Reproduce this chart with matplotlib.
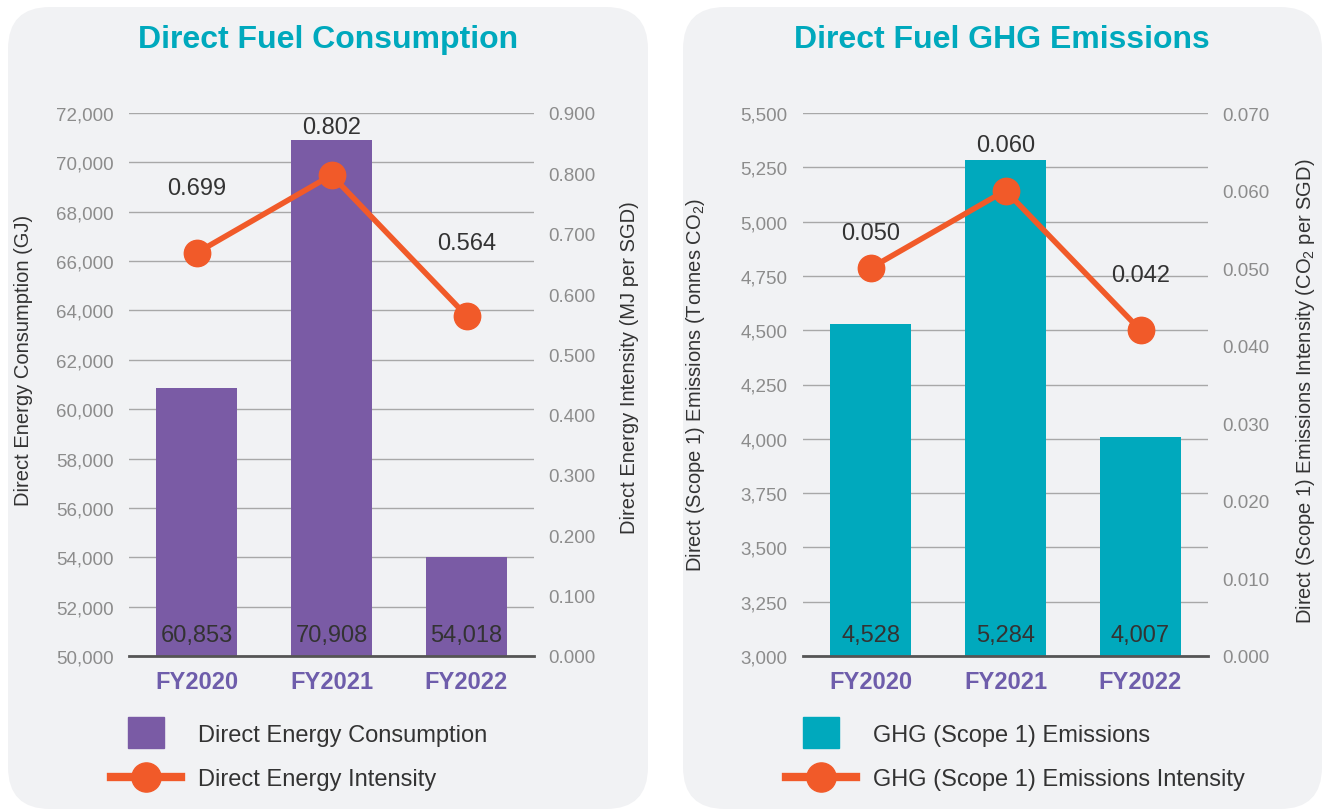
import matplotlib
matplotlib.use('Agg')
import matplotlib.pyplot as plt
import matplotlib.patches as mpatches
from matplotlib.lines import Line2D
from matplotlib.legend_handler import HandlerPatch
from matplotlib.ticker import FuncFormatter, MultipleLocator

plt.rcParams['font.family'] = ['Liberation Sans', 'DejaVu Sans']
plt.rcParams['mathtext.default'] = 'regular'

years = ['FY2020', 'FY2021', 'FY2022']

# left chart
energy = [60853, 70908, 54018]
energy_labels = ['60,853', '70,908', '54,018']
energy_intensity = [0.668, 0.797, 0.564]   # where the markers sit in the picture
energy_intensity_labels = ['0.699', '0.802', '0.564']

# right chart
ghg = [4528, 5284, 4007]
ghg_labels = ['4,528', '5,284', '4,007']
ghg_intensity = [0.050, 0.060, 0.042]
ghg_intensity_labels = ['0.050', '0.060', '0.042']

PURPLE = '#7a5ba5'
TEAL = '#00a9bd'
ORANGE = '#f15a29'
FY_COLOR = '#6e5dab'
TEXT = '#333333'
TICK = '#8c8c8c'
PANEL = '#f1f2f4'

W, H = 1324, 812
fig = plt.figure(figsize=(W / 100, H / 100), dpi=100)
fig.patch.set_facecolor('white')

# rounded panels (inches)
for x0, x1 in [(8, 648), (683, 1322)]:
    fig.patches.append(mpatches.FancyBboxPatch(
        (x0 / 100, 0.02), (x1 - x0) / 100, 8.02,
        boxstyle='round,pad=0,rounding_size=0.42',
        transform=fig.dpi_scale_trans, facecolor=PANEL, edgecolor='none', zorder=-5))


def square_handle(legend, orig_handle, xdescent, ydescent, width, height, fontsize):
    w, h = 26, 22
    return mpatches.Rectangle((width / 2 - w / 2 - xdescent, height / 2 - h / 2 - ydescent), w, h)


def draw_panel(left_px, title, title_x, bars, bar_labels, bar_color, ylim, ystep, yfmt,
               line, line_labels, label_offsets, ylim2, ystep2,
               ylabel, ylabel2, ylab_pos, ylab2_pos, leg_bar, leg_line, leg_x):
    ax = fig.add_axes([left_px / W, (H - 657) / H, 405 / W, 543 / H])
    ax.set_zorder(2)
    ax.set_facecolor('none')
    x = range(len(years))
    ax.bar(x, bars, width=0.6, color=bar_color, zorder=2)
    ax.set_xlim(-0.5, 2.5)
    ax.set_ylim(*ylim)
    ax.yaxis.set_major_locator(MultipleLocator(ystep))
    ax.yaxis.set_major_formatter(FuncFormatter(yfmt))
    ax.grid(axis='y', color='#a8a8a8', lw=1, zorder=0)
    ax.set_axisbelow(True)
    for s in ['top', 'right', 'left']:
        ax.spines[s].set_visible(False)
    ax.spines['bottom'].set_color('#555555')
    ax.spines['bottom'].set_linewidth(2)
    ax.spines['bottom'].set_zorder(5)
    ax.set_xticks(list(x))
    ax.set_xticklabels(years, fontsize=17, fontweight='bold', color=FY_COLOR)
    ax.tick_params(axis='x', length=0, pad=10)
    ax.tick_params(axis='y', length=0, pad=11, labelsize=13.5, labelcolor=TICK)
    ax.set_ylabel(ylabel, fontsize=14.5, color=TEXT, ha='center', va='center')
    ax.yaxis.set_label_coords(*ylab_pos)
    for i, lab in enumerate(bar_labels):
        ax.annotate(lab, (i, ylim[0]), xytext=(0, 11), textcoords='offset points',
                    ha='center', va='baseline', fontsize=17, color=TEXT, zorder=6)

    ax2 = ax.twinx()
    ax2.set_zorder(3)
    ax2.set_facecolor('none')
    ax2.set_ylim(*ylim2)
    ax2.yaxis.set_major_locator(MultipleLocator(ystep2))
    ax2.yaxis.set_major_formatter(FuncFormatter(lambda v, p: f'{v:.3f}'))
    for s in ax2.spines.values():
        s.set_visible(False)
    ax2.tick_params(axis='y', length=0, pad=10, labelsize=13.5, labelcolor=TICK)
    ax2.plot(x, line, color=ORANGE, lw=4, marker='o', ms=19, zorder=4)
    for i, lab in enumerate(line_labels):
        ax2.annotate(lab, (i, line[i]), xytext=(0, label_offsets[i]), textcoords='offset points',
                     ha='center', va='center', fontsize=17, color=TEXT)
    ax2.set_ylabel(ylabel2, fontsize=14.5, color=TEXT, ha='center', va='center', rotation=90)
    ax2.yaxis.set_label_coords(*ylab2_pos)

    fig.text(title_x / W, (H - 40) / H, title, ha='center', va='center',
             fontsize=23, fontweight='bold', color=TEAL)

    handles = [mpatches.Patch(color=bar_color, label=leg_bar),
               Line2D([], [], color=ORANGE, lw=6, marker='o', ms=21, label=leg_line)]
    fig.legend(handles=handles, loc='upper left', bbox_to_anchor=(leg_x / W, (H - 725) / H),
               frameon=False, fontsize=17, labelcolor=TEXT, borderpad=0, borderaxespad=0,
               handlelength=2.95, handletextpad=0.75, labelspacing=0.95, numpoints=1,
               handler_map={mpatches.Patch: HandlerPatch(patch_func=square_handle)})


draw_panel(129, 'Direct Fuel Consumption', 328, energy, energy_labels, PURPLE,
           (50000, 72000), 2000, lambda v, p: f'{int(v):,}',
           energy_intensity, energy_intensity_labels, [47, 35, 52], (0, 0.9), 0.1,
           'Direct Energy Consumption (GJ)', 'Direct Energy Intensity (MJ per SGD)',
           (-0.26, 0.547), (1.237, 0.532),
           'Direct Energy Consumption', 'Direct Energy Intensity', 111)

draw_panel(803, 'Direct Fuel GHG Emissions', 1002, ghg, ghg_labels, TEAL,
           (3000, 5500), 250, lambda v, p: f'{int(v):,}',
           ghg_intensity, ghg_intensity_labels, [25, 33, 40], (0, 0.07), 0.01,
           'Direct (Scope 1) Emissions (Tonnes CO$_2$)',
           'Direct (Scope 1) Emissions Intensity (CO$_2$ per SGD)',
           (-0.265, 0.5), (1.240, 0.49),
           'GHG (Scope 1) Emissions', 'GHG (Scope 1) Emissions Intensity', 786)

fig.savefig('out.png', dpi=100)
